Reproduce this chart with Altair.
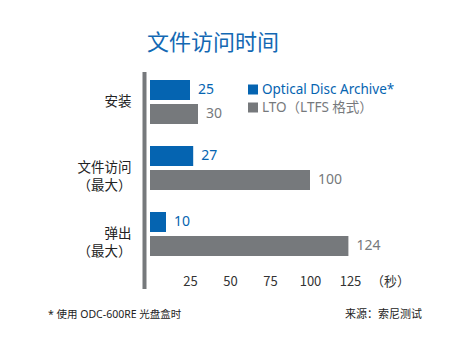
import altair as alt
import pandas as pd

categories = ["安装", "文件访问\n（最大）", "弹出\n（最大）"]
series = ["Optical Disc Archive*", "LTO（LTFS 格式）"]
oda_values = [25, 27, 10]
lto_values = [30, 100, 124]
tick_values = [25, 50, 75, 100, 125, 150]
unit_label = "（秒）"
title_text = "文件访问时间"
footnote = "* 使用 ODC-600RE 光盘盒时"
source = "来源：索尼测试"

BLUE = "#0564b1"
GRAY = "#76797c"
FONT = "Noto Sans, Noto Sans CJK SC"
CJK = "Noto Sans CJK SC"

rows = []
for c, a, b in zip(categories, oda_values, lto_values):
    rows.append({"cat": c, "series": series[0], "value": a})
    rows.append({"cat": c, "series": series[1], "value": b})
df = pd.DataFrame(rows)

color_scale = alt.Scale(domain=series, range=[BLUE, GRAY])

y_enc = alt.Y("cat:N", sort=categories,
              scale=alt.Scale(paddingInner=0, paddingOuter=0),
              axis=alt.Axis(title=None, domain=False, ticks=False, labelPadding=19,
                            labelFont=CJK, labelFontSize=13.5, labelColor="#222",
                            labelLineHeight=18, labelOverlap=False,
                            labelExpr="split(datum.label, '\\n')"))
yoff = alt.YOffset("series:N", sort=series,
                   scale=alt.Scale(paddingInner=0.17, paddingOuter=0.46))
x_enc = alt.X("value:Q", scale=alt.Scale(domain=[0, 150], nice=False),
              axis=alt.Axis(title=None, values=tick_values, grid=False, domain=False,
                            ticks=False, labelPadding=8, labelFontSize=13,
                            labelColor="#333", labelFont=CJK,
                            labelOverlap=False, labelFlush=False, labelBound=False,
                            labelExpr=f"datum.value == 150 ? '{unit_label}' : datum.label"))

base = alt.Chart(df)
bars = base.mark_bar(size=20).encode(
    x=x_enc, y=y_enc, yOffset=yoff,
    color=alt.Color("series:N", scale=color_scale, legend=None),
)
labels = base.mark_text(align="left", baseline="middle", dx=8, fontSize=14,
                        font=FONT).encode(
    x="value:Q", y=alt.Y("cat:N", sort=categories), yOffset=yoff,
    text="value:Q",
    color=alt.Color("series:N", scale=color_scale, legend=None),
)

axis_line = alt.Chart(pd.DataFrame({"a": [0]})).mark_rule(
    color=GRAY, strokeWidth=4).encode(
    x=alt.value(-5.5), y=alt.value(3), y2=alt.value(220))

leg_items = []
for i, s in enumerate(series):
    d = pd.DataFrame({"series": [s]})
    col = BLUE if i == 0 else GRAY
    ypos = 20.5 + 18 * i
    leg_items.append(alt.Chart(d).mark_square(size=100, opacity=1, color=col).encode(
        x=alt.value(103), y=alt.value(ypos)))
    leg_items.append(alt.Chart(d).mark_text(align="left", baseline="middle",
                                            fontSize=13.5, font=FONT, color=col).encode(
        x=alt.value(112), y=alt.value(ypos), text="series:N"))

foot = alt.Chart(pd.DataFrame({"t": [footnote]})).mark_text(
    align="left", baseline="middle", fontSize=10.5, font=FONT, color="#222").encode(
    x=alt.value(-102), y=alt.value(246), text="t:N")
src = alt.Chart(pd.DataFrame({"t": [source]})).mark_text(
    align="right", baseline="middle", fontSize=11, font=CJK, color="#222").encode(
    x=alt.value(272), y=alt.value(246), text="t:N")

chart = alt.layer(axis_line, bars, labels, *leg_items, foot, src).properties(
    width=240, height=198,
    title=alt.TitleParams(title_text, anchor="start", frame="group", dx=-3, offset=14,
                          fontSize=22, font=CJK, color="#1368b3", fontWeight="normal"),
    autosize=alt.AutoSizeParams(type="none"),
    padding={"left": 142, "top": 61, "right": 72, "bottom": 81},
).configure_view(stroke=None)

chart.save("out.html", embed_options={"renderer": "svg", "actions": False})
